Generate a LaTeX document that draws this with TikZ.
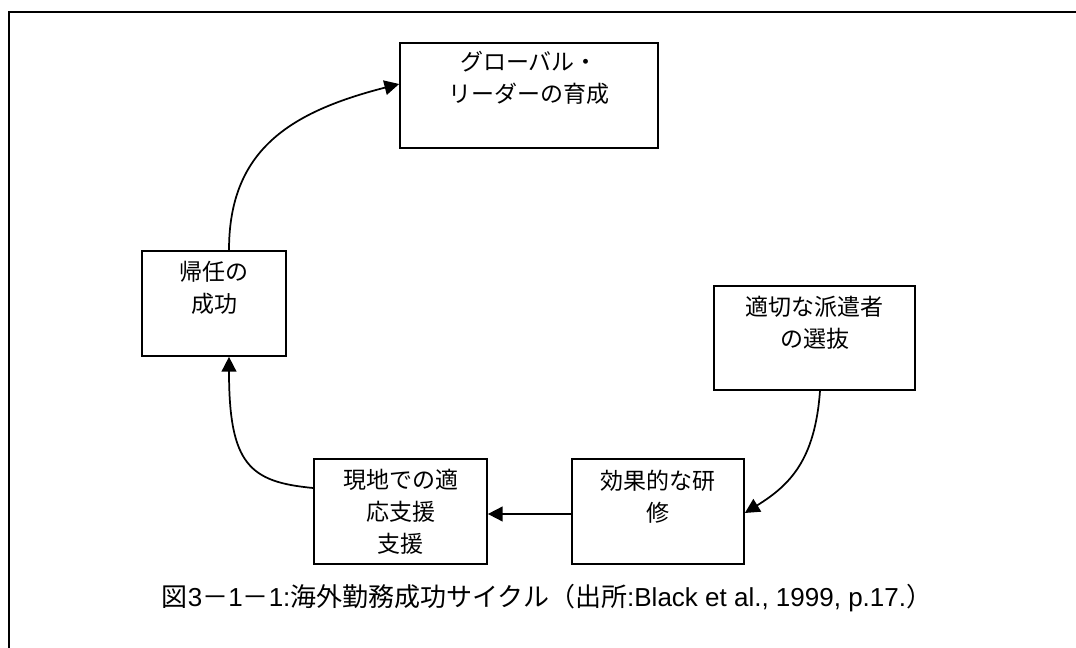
\documentclass[tikz,border=0pt]{standalone}
\usepackage{fontspec}
\newfontfamily\jp{Noto Sans CJK JP}
\newfontfamily\lat{Liberation Sans}
\usetikzlibrary{arrows.meta,calc}
\begin{document}
\begin{tikzpicture}[x=0.75pt,y=-0.75pt,
  box/.style={draw,line width=1.3pt,inner sep=0pt},
  lbl/.style={font=\jp\fontsize{17.25pt}{24pt}\selectfont,align=center,inner sep=0pt,anchor=north},
  caplbl/.style={font=\jp\fontsize{19.5pt}{24pt}\selectfont,inner sep=0pt,anchor=center},
  conn/.style={line width=1.3pt,-{Triangle[length=11pt,width=11pt]}}]
\clip (0,0) rectangle (1076,648);
\fill[white] (0,0) rectangle (1076,648);
\draw[line width=1.9pt] (9,660) -- (9,12) -- (1090,12);
% boxes
\node[box,minimum width=193.5pt,minimum height=78.75pt] (gl) at (529,95.5) {};
\node[box,minimum width=108pt,minimum height=78.75pt] (ki) at (214,303.5) {};
\node[box,minimum width=150.75pt,minimum height=78pt] (se) at (814.5,338) {};
\node[box,minimum width=129pt,minimum height=78.75pt] (ko) at (658,511.5) {};
\node[box,minimum width=129.75pt,minimum height=78.75pt] (ge) at (400.5,511.5) {};
% texts
\node[lbl] (gl-t) at ($(gl.north)+(0,9)$) {グローバル・\\リーダーの育成};
\node[lbl] (ki-t) at ($(ki.north)+(0,11)$) {帰任の\\成功};
\node[lbl] (se-t) at ($(se.north)+(0,11)$) {適切な派遣者\\の選抜};
\node[lbl] (ko-t) at ($(ko.north)+(0,12)$) {効果的な研\\修};
\node[lbl] (ge-t) at ($(ge.north)+(0,11)$) {現地での適\\応支援\\支援};
% connectors
\draw[conn] ($(ko.west)+(0,2.5)$) -- ($(ge.east)+(0,2.5)$);
\draw[conn] ($(se.south)+(5.5,0)$) .. controls (815,460) and (790,485) .. ($(ko.east)+(0,1.5)$);
\draw[conn] ($(ge.west)+(0,-23.5)$) .. controls (250,482) and (229,465) .. ($(ki.south)+(15,0)$);
\draw[conn] ($(ki.north)+(15,0)$) .. controls (229,150) and (290,112) .. ($(gl.west)+(0,-11.5)$);
% caption
\node[caplbl] (cap) at (547,598) {図{\lat 3}－{\lat 1}－{\lat 1:}海外勤務成功サイクル（出所{\lat :Black et al., 1999, p.17.}）};
\end{tikzpicture}
\end{document}
